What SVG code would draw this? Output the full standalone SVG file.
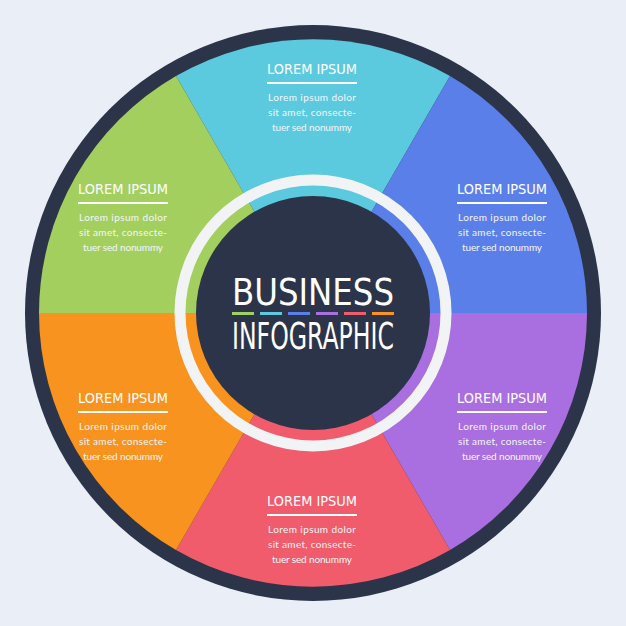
<svg xmlns="http://www.w3.org/2000/svg" width="626" height="626" viewBox="0 0 626 626">
<style>
.t{font-family:"DejaVu Sans","Liberation Sans",sans-serif;font-size:14px;fill:#fff;text-anchor:middle}
.b{font-family:"Lato","Liberation Sans",sans-serif;font-size:10px;fill:#f4f6fb;text-anchor:middle}
.u{stroke:#fff;stroke-width:2}
.big{font-family:"DejaVu Sans","Liberation Sans",sans-serif;font-size:38px;fill:#fff;text-anchor:middle}
</style>
<rect width="626" height="626" fill="#e9eef7"/>
<g id="outer">
<circle cx="313" cy="313" r="288" fill="#2b3448"/>
</g>
<g id="sectors">
<path d="M313 313 L176 76 A274 274 0 0 1 450 76 Z" fill="#5bc9de"/>
<path d="M313 313 L450 76 A274 274 0 0 1 587 313 Z" fill="#5b7fe8"/>
<path d="M313 313 L587 313 A274 274 0 0 1 450 550 Z" fill="#a96ee0"/>
<path d="M313 313 L450 550 A274 274 0 0 1 176 550 Z" fill="#f05c6c"/>
<path d="M313 313 L176 550 A274 274 0 0 1 39 313 Z" fill="#f7931e"/>
<path d="M313 313 L39 313 A274 274 0 0 1 176 76 Z" fill="#a3cf5f"/>
</g>
<g id="center">
<circle cx="313" cy="313" r="133" fill="none" stroke="#f2f3f5" stroke-width="11"/>
<circle cx="313" cy="313" r="117" fill="#2b3448"/>
<text class="big" x="313" y="305" textLength="162" lengthAdjust="spacingAndGlyphs">BUSINESS</text>
<rect x="232" y="312" width="22" height="3" fill="#a3cf5f"/>
<rect x="260" y="312" width="22" height="3" fill="#5bc9de"/>
<rect x="288" y="312" width="22" height="3" fill="#5b7fe8"/>
<rect x="316" y="312" width="22" height="3" fill="#a96ee0"/>
<rect x="344" y="312" width="22" height="3" fill="#f05c6c"/>
<rect x="372" y="312" width="22" height="3" fill="#f7931e"/>
<text class="big" x="313" y="349" textLength="162" lengthAdjust="spacingAndGlyphs">INFOGRAPHIC</text>
</g>
<g id="n1"><text class="t" x="312" y="74" textLength="90" lengthAdjust="spacingAndGlyphs">LOREM IPSUM</text><line class="u" x1="267" y1="83" x2="357" y2="83"/>
<text class="b" x="312" y="101" textLength="88">Lorem ipsum dolor</text><text class="b" x="312" y="116" textLength="88">sit amet, consecte-</text><text class="b" x="312" y="131" textLength="80">tuer sed nonummy</text></g>
<g id="n2"><text class="t" x="123" y="194" textLength="90" lengthAdjust="spacingAndGlyphs">LOREM IPSUM</text><line class="u" x1="78" y1="203" x2="168" y2="203"/>
<text class="b" x="123" y="221" textLength="88">Lorem ipsum dolor</text><text class="b" x="123" y="236" textLength="88">sit amet, consecte-</text><text class="b" x="123" y="251" textLength="80">tuer sed nonummy</text></g>
<g id="n3"><text class="t" x="502" y="194" textLength="90" lengthAdjust="spacingAndGlyphs">LOREM IPSUM</text><line class="u" x1="457" y1="203" x2="547" y2="203"/>
<text class="b" x="502" y="221" textLength="88">Lorem ipsum dolor</text><text class="b" x="502" y="236" textLength="88">sit amet, consecte-</text><text class="b" x="502" y="251" textLength="80">tuer sed nonummy</text></g>
<g id="n4"><text class="t" x="123" y="403" textLength="90" lengthAdjust="spacingAndGlyphs">LOREM IPSUM</text><line class="u" x1="78" y1="412" x2="168" y2="412"/>
<text class="b" x="123" y="430" textLength="88">Lorem ipsum dolor</text><text class="b" x="123" y="445" textLength="88">sit amet, consecte-</text><text class="b" x="123" y="460" textLength="80">tuer sed nonummy</text></g>
<g id="n5"><text class="t" x="502" y="403" textLength="90" lengthAdjust="spacingAndGlyphs">LOREM IPSUM</text><line class="u" x1="457" y1="412" x2="547" y2="412"/>
<text class="b" x="502" y="430" textLength="88">Lorem ipsum dolor</text><text class="b" x="502" y="445" textLength="88">sit amet, consecte-</text><text class="b" x="502" y="460" textLength="80">tuer sed nonummy</text></g>
<g id="n6"><text class="t" x="312" y="506" textLength="90" lengthAdjust="spacingAndGlyphs">LOREM IPSUM</text><line class="u" x1="267" y1="515" x2="357" y2="515"/>
<text class="b" x="312" y="533" textLength="88">Lorem ipsum dolor</text><text class="b" x="312" y="548" textLength="88">sit amet, consecte-</text><text class="b" x="312" y="563" textLength="80">tuer sed nonummy</text></g>
</svg>
